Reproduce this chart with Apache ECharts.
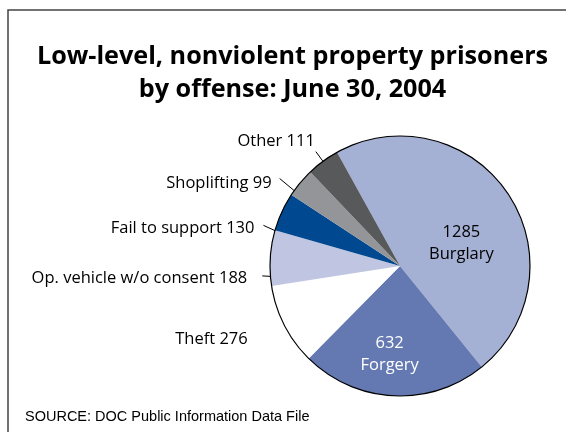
<!DOCTYPE html>
<html>
<head>
<meta charset="utf-8">
<script src="https://cdn.jsdelivr.net/npm/echarts@6/dist/echarts.min.js"></script>
<style>
  html, body { margin: 0; padding: 0; background: #fff; }
  #chart { width: 566px; height: 432px; }
</style>
</head>
<body>
<div id="chart"></div>
<script>
// offenses, clockwise from the top-left edge of Burglary
var offenses = ['Burglary', 'Forgery', 'Theft', 'Op. vehicle w/o consent', 'Fail to support', 'Shoplifting', 'Other'];
var prisoners = [1285, 632, 276, 188, 130, 99, 111];
var sliceColors = ['#a4b1d4', '#6479b2', '#ffffff', '#c0c6e2', '#004990', '#939598', '#58595b'];

// outside labels: leader length, nudge of the text, nudge of the leader
var lineLen = [0, 0, 40, 16, 18, 24, 12];
var textShift = [[0, 0], [0, 0], [4, -4], [-2, 21], [-6, 24], [-5, 16], [4, -10]];
var lineShift = [[0, 0], [0, 0], [0, 0], [8, 19], [-2, 21], [-2, 11], [0, 0]];

var chart = echarts.init(document.getElementById('chart'));

var pieData = offenses.map(function (name, i) {
  var item = { name: name, value: prisoners[i], itemStyle: { color: sliceColors[i] } };
  if (i === 0) {
    item.label = { position: 'inside', color: '#000', formatter: '{c}\n{b}', offset: [5, 15] };
    item.labelLine = { show: false };
  } else if (i === 1) {
    item.label = { position: 'inside', color: '#fff', formatter: '{c}\n{b}', offset: [-7, 20] };
    item.labelLine = { show: false };
  } else {
    item.labelLine = { show: i !== 2, length: lineLen[i], length2: 0 };
  }
  return item;
});

chart.setOption({
  animation: false,
  title: {
    text: 'Low-level, nonviolent property prisoners\nby offense: June 30, 2004',
    left: 287.5,
    top: 35,
    textAlign: 'center',
    textStyle: { fontFamily: 'Open Sans', fontWeight: 'bold', fontSize: 25.2, lineHeight: 33, color: '#000' }
  },
  graphic: [
    {
      type: 'rect',
      shape: { x: 8, y: 10, width: 700, height: 600 },
      style: { fill: null, stroke: '#444', lineWidth: 1.5 },
      silent: true
    },
    {
      type: 'text',
      left: 25,
      top: 409,
      style: { text: 'SOURCE: DOC Public Information Data File', font: '14.5px "Liberation Sans"', fill: '#000' }
    }
  ],
  series: [
    {
      type: 'pie',
      center: [400, 266],
      radius: 130,
      startAngle: 119,
      clockwise: true,
      avoidLabelOverlap: false,
      data: pieData,
      label: {
        fontFamily: 'Open Sans',
        fontSize: 16.5,
        color: '#000',
        lineHeight: 22,
        formatter: '{b} {c}'
      },
      labelLine: {
        show: true,
        length: 12,
        length2: 0,
        lineStyle: { color: '#000', width: 1 }
      },
      labelLayout: function (params) {
        var i = params.dataIndex;
        var out = { dx: textShift[i][0], dy: textShift[i][1] };
        if (params.labelLinePoints) {
          out.labelLinePoints = params.labelLinePoints.map(function (p) {
            return [p[0] + lineShift[i][0], p[1] + lineShift[i][1]];
          });
        }
        return out;
      },
      itemStyle: { borderWidth: 0 }
    },
    {
      // outer outline only
      type: 'pie',
      center: [400, 266],
      radius: 130,
      silent: true,
      label: { show: false },
      labelLine: { show: false },
      data: [{ value: 1, itemStyle: { color: 'rgba(0,0,0,0)', borderColor: '#000', borderWidth: 1.2 } }]
    }
  ]
});
</script>
</body>
</html>
